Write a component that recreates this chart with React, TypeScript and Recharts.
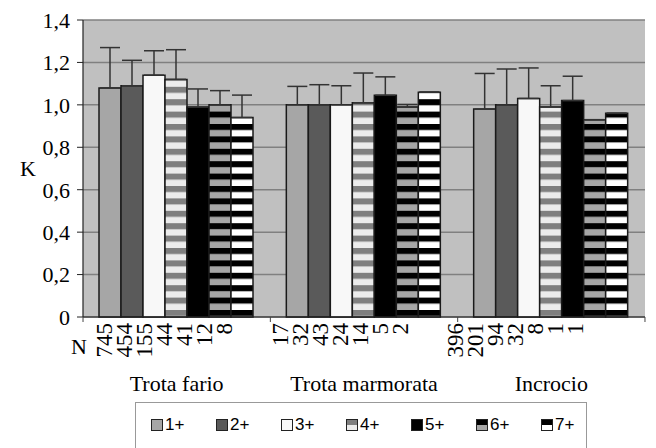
import React from 'react';
import {
  BarChart,
  Bar,
  ErrorBar,
  XAxis,
  YAxis,
  CartesianGrid,
  Legend,
} from 'recharts';

const categories = ['Trota fario', 'Trota marmorata', 'Incrocio'];
const ageClasses = ['1+', '2+', '3+', '4+', '5+', '6+', '7+'];

// mean K per age class
const kFario = [1.08, 1.09, 1.14, 1.12, 0.99, 1.0, 0.94];
const kMarmorata = [1.0, 1.0, 1.0, 1.01, 1.045, 0.99, 1.06];
const kIncrocio = [0.98, 1.0, 1.03, 0.99, 1.02, 0.93, 0.96];

// standard deviations (only the upper whisker is drawn)
const sdFario = [0.19, 0.12, 0.115, 0.14, 0.085, 0.067, 0.106];
const sdMarmorata = [0.087, 0.095, 0.09, 0.14, 0.087, 0.012, 0];
const sdIncrocio = [0.168, 0.169, 0.144, 0.1, 0.115, 0, 0];

// sample sizes
const nFario = [745, 454, 155, 44, 41, 12, 8];
const nMarmorata = [17, 32, 43, 24, 14, 5, 2];
const nIncrocio = [396, 201, 94, 32, 8, 1, 1];

const yTicks = [0, 0.2, 0.4, 0.6, 0.8, 1.0, 1.2, 1.4];

const kByCat = [kFario, kMarmorata, kIncrocio];
const sdByCat = [sdFario, sdMarmorata, sdIncrocio];
const nByCat = [nFario, nMarmorata, nIncrocio];

const data = categories.map((name, c) => {
  const row: Record<string, any> = { name };
  ageClasses.forEach((_, i) => {
    row[`k${i}`] = kByCat[c][i];
    row[`e${i}`] = [0, sdByCat[c][i]];
  });
  return row;
});

// look of each age class: plain fill or two-colour horizontal stripes
const looks = [
  { fill: '#a6a6a6' },
  { fill: '#5a5a5a' },
  { fill: '#f8f8f8' },
  { top: '#7f7f7f', bottom: '#ececec' },
  { fill: '#000000' },
  { top: '#000000', bottom: '#a6a6a6' },
  { top: '#000000', bottom: '#ffffff' },
];

const SERIF = '"Liberation Serif", "Times New Roman", Times, serif';
const SANS = '"Liberation Sans", Arial, sans-serif';
const STRIPE = 12.4;

// offsets of the N labels from the category centre (they do not sit under the bars)
const nLabelStart = [-73, -84, -96];
const nLabelStep = 20;
const BAND = 187.3;

const fillFor = (i: number) => (looks[i].fill ? looks[i].fill : `url(#stripe${i})`);

const serifStyle = { fontFamily: SERIF };

const GroupTick = (props: any) => {
  const { x, y, payload, index } = props;
  const ns = nByCat[index];
  return (
    <g>
      <line x1={x - BAND / 2} x2={x - BAND / 2} y1={y - 8} y2={y - 3} stroke="#444" />
      {index === categories.length - 1 && (
        <line x1={x + BAND / 2} x2={x + BAND / 2} y1={y - 8} y2={y - 3} stroke="#444" />
      )}
      {index === 0 && (
        <text x={x - BAND / 2 - 4} y={y + 29} textAnchor="middle" style={serifStyle} fontSize={22} fill="#000">
          N
        </text>
      )}
      {ns.map((n, j) => (
        <text
          key={j}
          transform={`translate(${x + nLabelStart[index] + j * nLabelStep},${y - 2}) rotate(-90)`}
          textAnchor="end"
          dy="0.35em"
          style={serifStyle}
          fontSize={23}
          fill="#000"
        >
          {n}
        </text>
      ))}
      <text x={x} y={y + 66} textAnchor="middle" style={serifStyle} fontSize={22} fill="#000">
        {payload.value}
      </text>
    </g>
  );
};

const LegendBox = () => (
  <div
    style={{
      border: '1px solid #999',
      height: 60,
      boxSizing: 'border-box',
      display: 'flex',
      paddingLeft: 15,
      paddingTop: 12,
      fontFamily: SANS,
      fontSize: 17,
      color: '#000',
    }}
  >
    {ageClasses.map((a, i) => (
      <div key={a} style={{ width: 65, flex: 'none', display: 'flex', alignItems: 'center', height: 20 }}>
        <svg width={12} height={12} style={{ marginRight: 2, flex: 'none' }}>
          {looks[i].fill ? (
            <rect x={0.5} y={0.5} width={11} height={11} fill={looks[i].fill} stroke="#222" />
          ) : (
            <g>
              <rect x={0.5} y={0.5} width={11} height={5.5} fill={looks[i].top} />
              <rect x={0.5} y={6} width={11} height={5.5} fill={looks[i].bottom} />
              <rect x={0.5} y={0.5} width={11} height={11} fill="none" stroke="#222" />
            </g>
          )}
        </svg>
        <span>{a}</span>
      </div>
    ))}
  </div>
);

export default function App() {
  return (
    <div
      style={{
        position: 'absolute',
        left: 0,
        top: 0,
        width: 656,
        height: 448,
        background: '#fff',
        fontFamily: SERIF,
      }}
    >
      <BarChart
        width={656}
        height={448}
        data={data}
        margin={{ top: 20, right: 11, left: 0, bottom: 71 }}
        barCategoryGap={16}
        barGap={0}
        style={{ fontFamily: SERIF }}
      >
        <defs>
          {looks.map((l, i) =>
            l.fill ? null : (
              <pattern key={i} id={`stripe${i}`} width={10} height={STRIPE} patternUnits="userSpaceOnUse">
                <rect width={10} height={STRIPE / 2} fill={l.top} />
                <rect y={STRIPE / 2} width={10} height={STRIPE / 2} fill={l.bottom} />
              </pattern>
            )
          )}
        </defs>
        <CartesianGrid vertical={false} stroke="#808080" strokeWidth={1.5} fill="#c0c0c0" />
        <XAxis
          dataKey="name"
          height={60}
          tickLine={false}
          axisLine={{ stroke: '#222', strokeWidth: 1.2 }}
          tick={<GroupTick />}
          interval={0}
        />
        <YAxis
          domain={[0, 1.4]}
          ticks={yTicks}
          width={83}
          tickSize={6}
          tickMargin={7}
          interval={0}
          axisLine={{ stroke: '#222', strokeWidth: 1.2 }}
          tickLine={{ stroke: '#222' }}
          tick={{ style: serifStyle, fontSize: 22, fill: '#000' }}
          tickFormatter={(v: number) => (v === 0 ? '0' : v.toFixed(1).replace('.', ','))}
          label={{ value: 'K', position: 'insideLeft', offset: 20, style: serifStyle, fontSize: 22, fill: '#000' }}
        />
        <YAxis
          yAxisId="frame"
          orientation="right"
          width={0}
          tick={false}
          tickLine={false}
          axisLine={{ stroke: '#999', strokeWidth: 1.5 }}
        />
        <Legend
          verticalAlign="middle"
          content={<LegendBox />}
          wrapperStyle={{ left: 135, top: 402, width: 452, height: 60 }}
        />
        {ageClasses.map((a, i) => (
          <Bar
            key={a}
            dataKey={`k${i}`}
            name={a}
            fill={fillFor(i)}
            stroke="#1a1a1a"
            strokeWidth={1.5}
            isAnimationActive={false}
          >
            <ErrorBar
              dataKey={`e${i}`}
              direction="y"
              width={10}
              stroke="#333"
              strokeWidth={1.5}
              isAnimationActive={false}
            />
          </Bar>
        ))}
      </BarChart>
    </div>
  );
}
